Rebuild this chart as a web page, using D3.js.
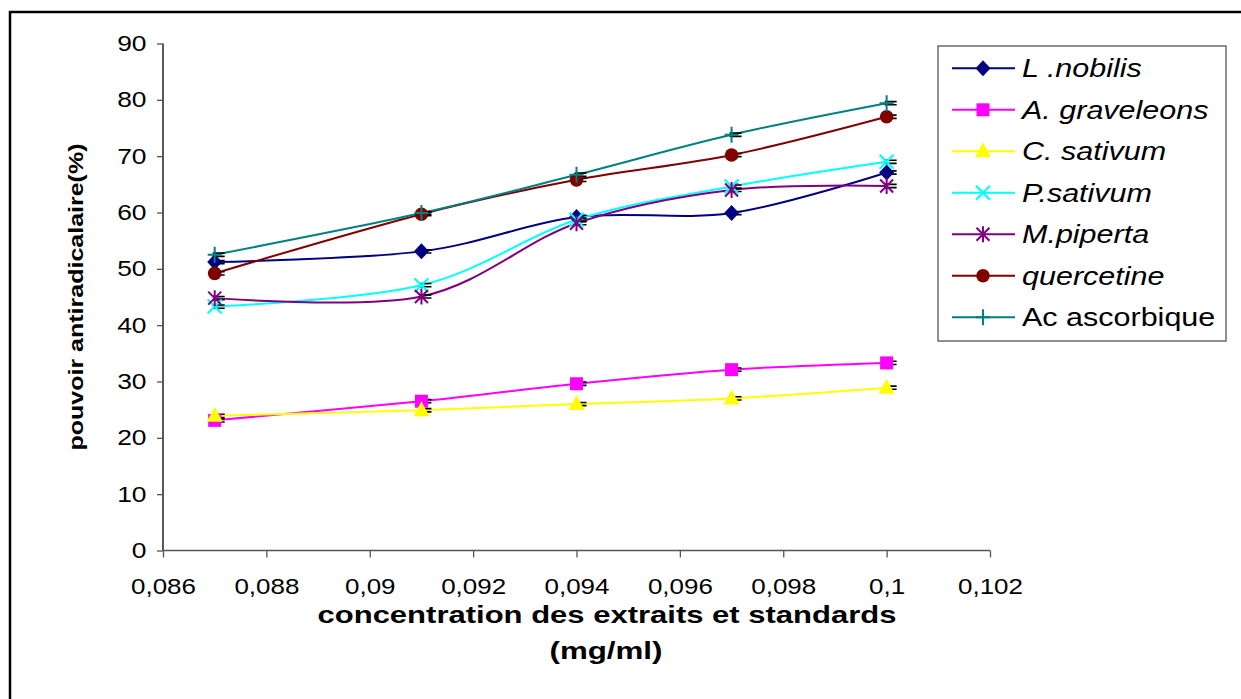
<!DOCTYPE html>
<html>
<head>
<meta charset="utf-8">
<script src="https://cdn.jsdelivr.net/npm/d3@7"></script>
<style>
  html, body { margin: 0; padding: 0; background: #fff; }
  svg { display: block; font-family: "Liberation Sans", Arial, sans-serif; }
</style>
</head>
<body>
<svg id="chart" width="1241" height="699"></svg>
<script>
// Concentrations (mg/ml) at which each extract / standard was measured
const concentrations = [0.087, 0.091, 0.094, 0.097, 0.1];

// Antiradical power (%) per extract / standard
const lNobilis     = [51.2, 53.1, 59.2, 59.9, 67.1];
const aGraveleons  = [23.1, 26.5, 29.6, 32.1, 33.3];
const cSativum     = [23.9, 24.9, 26.0, 27.0, 28.9];
const pSativum     = [43.3, 47.1, 58.7, 64.6, 69.0];
const mPiperta     = [44.8, 45.1, 58.1, 64.0, 64.7];
const quercetine   = [49.2, 59.7, 65.8, 70.2, 77.0];
const acAscorbique = [52.5, 59.9, 66.7, 73.8, 79.4];

const seriesNames = ["L .nobilis", "A. graveleons", "C. sativum", "P.sativum", "M.piperta", "quercetine", "Ac ascorbique"];
const seriesValues = [lNobilis, aGraveleons, cSativum, pSativum, mPiperta, quercetine, acAscorbique];
const seriesColors = ["#000080", "#ff00ff", "#ffff00", "#00ffff", "#800080", "#800000", "#008080"];
const seriesMarkers = ["diamond", "square", "triangle", "cross", "star", "circle", "plus"];
const seriesItalic = [true, true, true, true, true, true, false];

const xTicks = [0.086, 0.088, 0.09, 0.092, 0.094, 0.096, 0.098, 0.1, 0.102];
const yTicks = [0, 10, 20, 30, 40, 50, 60, 70, 80, 90];

const svg = d3.select("#chart");

// outer frame (only top and left edges fall inside the view)
svg.append("rect")
  .attr("x", 10).attr("y", 12).attr("width", 1300).attr("height", 800)
  .attr("fill", "none").attr("stroke", "#000").attr("stroke-width", 2.5);

const x = d3.scaleLinear().domain([0.086, 0.102]).range([163, 990]);
const y = d3.scaleLinear().domain([0, 90]).range([550.5, 43.5]);

// widen text horizontally to a given factor of its natural width
function stretch(sel, factor) {
  sel.each(function () {
    const w = this.getComputedTextLength();
    d3.select(this).attr("textLength", w * factor).attr("lengthAdjust", "spacingAndGlyphs");
  });
}
function fitTo(sel, width) {
  sel.attr("textLength", width).attr("lengthAdjust", "spacingAndGlyphs");
}

// y axis
const yAxis = svg.append("g").attr("transform", "translate(163,0)")
  .call(d3.axisLeft(y).tickValues(yTicks).tickSize(6).tickPadding(10).tickFormat(d3.format("d")));
yAxis.select(".domain").attr("stroke", "#000").attr("stroke-width", 1.3).attr("d", `M0,${y(90)}V${y(0)}`);
yAxis.selectAll(".tick line").attr("stroke", "#555").attr("stroke-width", 1.3);
yAxis.selectAll(".tick text").attr("font-size", 22).attr("fill", "#000")
  .attr("font-family", "Liberation Sans, Arial, sans-serif").attr("x", -16.5);
stretch(yAxis.selectAll(".tick text"), 1.2);

// x axis
const fmtComma = d => String(+d.toFixed(3)).replace(".", ",");
const xAxis = svg.append("g").attr("transform", `translate(0,${y(0)})`)
  .call(d3.axisBottom(x).tickValues(xTicks).tickSize(7).tickPadding(8).tickFormat(fmtComma));
xAxis.select(".domain").attr("stroke", "#555").attr("stroke-width", 1.5).attr("d", `M${x(0.086)},0H${x(0.102)}`);
xAxis.selectAll(".tick line").attr("stroke", "#555").attr("stroke-width", 1.3);
xAxis.selectAll(".tick text").attr("font-size", 22).attr("fill", "#000")
  .attr("font-family", "Liberation Sans, Arial, sans-serif").attr("dy", null).attr("y", 43);
stretch(xAxis.selectAll(".tick text"), 1.18);

// axis titles
const xt1 = svg.append("text").attr("x", 607).attr("y", 623).attr("text-anchor", "middle")
  .attr("font-size", 24).attr("font-weight", "bold").text("concentration des extraits et standards");
fitTo(xt1, 579);
const xt2 = svg.append("text").attr("x", 606).attr("y", 659).attr("text-anchor", "middle")
  .attr("font-size", 24).attr("font-weight", "bold").text("(mg/ml)");
fitTo(xt2, 113);
const yt = svg.append("text").attr("transform", "translate(83,297) rotate(-90)")
  .attr("text-anchor", "middle").attr("font-size", 20).attr("font-weight", "bold")
  .text("pouvoir antiradicalaire(%)");
fitTo(yt, 307);

// marker drawing
function drawMarker(g, type, color) {
  switch (type) {
    case "diamond":
      g.append("path").attr("d", "M0,-8L7.5,0L0,8L-7.5,0Z").attr("fill", color); break;
    case "square":
      g.append("rect").attr("x", -6.5).attr("y", -6.5).attr("width", 13).attr("height", 13).attr("fill", color); break;
    case "triangle":
      g.append("path").attr("d", "M0,-9L8,6L-8,6Z").attr("fill", color); break;
    case "circle":
      g.append("circle").attr("r", 6.8).attr("fill", color); break;
    case "cross":
      g.append("path").attr("d", "M-7,-7L7,7M-7,7L7,-7").attr("stroke", color).attr("stroke-width", 2.2); break;
    case "star":
      g.append("path").attr("d", "M-6.5,-6.5L6.5,6.5M-6.5,6.5L6.5,-6.5M0,-8V8")
        .attr("stroke", color).attr("stroke-width", 2); break;
    case "plus":
      g.append("path").attr("d", "M-7,0H7M0,-8V8").attr("stroke", color).attr("stroke-width", 2); break;
  }
}

const line = d3.line().x(d => x(d[0])).y(d => y(d[1])).curve(d3.curveCardinal.tension(0));
const plot = svg.append("g");

seriesValues.forEach((vals, i) => {
  const pts = concentrations.map((c, j) => [c, vals[j]]);
  plot.append("path").datum(pts).attr("d", line)
    .attr("fill", "none").attr("stroke", seriesColors[i]).attr("stroke-width", 2);
});

// small error-bar caps just beside each point
seriesValues.forEach((vals) => {
  concentrations.forEach((c, j) => {
    const cx = x(c), cy = y(vals[j]);
    plot.append("path")
      .attr("d", `M${cx - 2},${cy - 1.6}H${cx + 10}M${cx - 2},${cy + 1.6}H${cx + 10}`)
      .attr("stroke", "#000").attr("stroke-width", 1.6);
  });
});

seriesValues.forEach((vals, i) => {
  concentrations.forEach((c, j) => {
    const g = plot.append("g").attr("transform", `translate(${x(c)},${y(vals[j])})`);
    drawMarker(g, seriesMarkers[i], seriesColors[i]);
  });
});

// legend
const legend = svg.append("g");
legend.append("rect").attr("x", 938).attr("y", 46).attr("width", 288).attr("height", 295)
  .attr("fill", "#fff").attr("stroke", "#555").attr("stroke-width", 1.3);
seriesNames.forEach((name, i) => {
  const ly = 68.3 + i * 41.5;
  legend.append("line").attr("x1", 952).attr("x2", 1015).attr("y1", ly).attr("y2", ly)
    .attr("stroke", seriesColors[i]).attr("stroke-width", 2);
  const g = legend.append("g").attr("transform", `translate(983,${ly})`);
  drawMarker(g, seriesMarkers[i], seriesColors[i]);
  const t = legend.append("text").attr("x", 1022).attr("y", ly + 9)
    .attr("font-size", 25).attr("font-style", seriesItalic[i] ? "italic" : "normal").text(name);
  stretch(t, 1.22);
});
</script>
</body>
</html>
